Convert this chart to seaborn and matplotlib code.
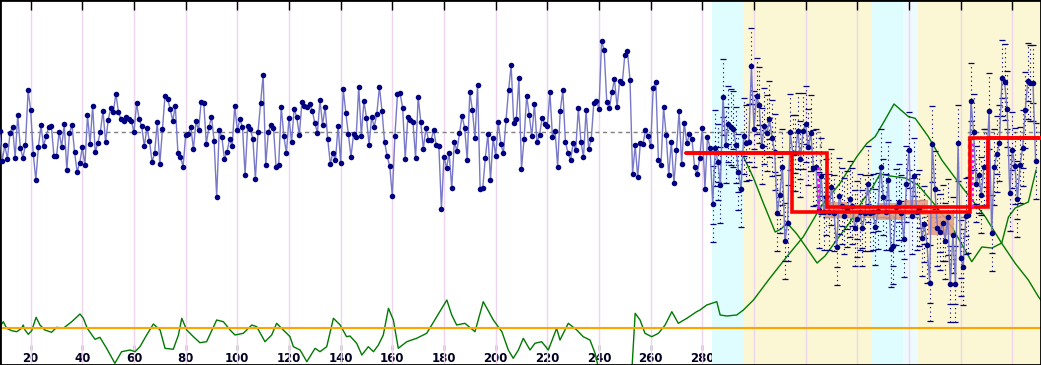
import numpy as np
import pandas as pd
import matplotlib
matplotlib.use("Agg")
import matplotlib.pyplot as plt
import seaborn as sns

# ---------------- data ----------------
seg1 = [234, 204.3, 220, 206, 232, 238, 207.3, 250, 217, 207.3, 220.3, 274.7, 254.7, 211, 185,
        218.3, 239.7, 218.7, 229.3, 238, 239.3, 209, 208.7, 232.7, 218.3, 240.7, 194.7, 231.7, 240,
        212.7, 193.3, 202.3, 217.7, 199.7, 249.7, 221.3, 259, 212.7, 222.3, 233.3, 254.3, 222.7,
        244.7, 257.3, 253.3, 271.3, 252.7, 245.7, 243.7, 248, 245.7, 244.3, 232.7, 261.7, 245.7,
        238.7, 218.7, 237]
seg2 = [224, 203, 212, 243, 201, 235.7, 269.3, 266.3, 256, 244.3, 258.7, 212.3, 208, 198.3, 229.7,
        231, 238, 215.7, 243.7, 234.7, 263.3, 262.3, 221.3, 237.7, 248.3, 224.3, 168.3, 235, 228,
        206, 213, 225.7, 219, 259.3, 234.7, 245.7, 237.7, 190.3, 239, 235.7, 226.3, 186, 233.3, 262,
        290, 199.7, 233.3, 239.7, 237.3, 198, 199.7, 258.3, 228.7, 212, 247.3, 222.7]
seg3 = [256.3, 247.7, 229.7, 263, 259.3, 258, 261, 254.3, 242.3, 232, 264.7, 240, 258.3, 225.7,
        201.3, 212, 205, 239.3, 202, 276, 252.3, 230.7, 208.3, 230.7, 228.3, 278.3, 229.3, 264, 247,
        220, 248, 238, 251.3, 278, 254.3, 223, 209, 198.7, 168.7, 229.3, 270.7, 271.7, 257, 206.3,
        248, 244.7, 242.7, 206.7, 268.3, 243.3, 216, 237, 225, 224.7, 235.3, 219.7]
seg4 = [219.3, 156.3, 208.3, 197, 211.7, 176.7, 223, 214.3, 231.7, 249, 237, 205, 273.3, 254.7,
        226.7, 280.3, 176, 176.7, 207.3, 231, 185, 227.3, 209.3, 242.7, 221.3, 211.7, 244.7, 275,
        299.7, 241.7, 245.7, 286.7, 196.3, 226, 269.3, 249.7, 228.7, 261, 222.7, 230.3, 247.3, 241.3,
        238.7, 272.7, 227.7, 233.7, 198.3, 254.3, 274.7, 223, 212, 205.3, 221.7, 215.3, 256.7, 223.3]
seg5 = [208, 254.7, 215.7, 226, 262.3, 264, 256.3, 324, 314.7, 263.3, 256.7, 272.7, 285.7, 258,
        284.3, 281.7, 310, 313.7, 285.3, 191.3, 219.7, 188, 222, 220.7, 234.7, 229, 218.7, 277.3,
        282.7, 204.7, 199.7, 257.7, 230, 189.7, 223.3, 181.7, 215.3, 253.7, 201.3, 242.3, 221.7,
        230.7, 226, 197.7, 190.7, 207.3, 237, 176.3, 227.7, 216.7, 160.7, 217, 203.3, 180, 268, 220]
seg6 = [241, 237.7, 236.3, 220, 192.7, 176, 229, 222.3, 223, 299, 236, 269.3, 260, 219.3, 239,
        231.7, 245.7, 227.3, 213, 152, 170.3, 198.3, 123.7, 142.3, 233.3, 212.3, 212.3, 234.3, 206.3,
        234, 241, 217.7, 231.7, 197, 197.7, 154.7, 189, 153.3, 168, 153, 178.3, 152.3, 117.7, 169,
        159, 149.3, 155.7, 166, 159, 137.3, 146, 153, 137.3, 152.3, 181, 152.3]
seg7 = [153, 138.3, 154.3, 198.3, 168.3, 153.3, 184.7, 116, 119, 158.3, 163, 151.7, 125.7, 181.3,
        215, 149, 189.3, 153.3, 157.3, 126.7, 140.7, 119.7, 82.3, 221.3, 176, 137.3, 133.3, 141.7,
        124, 148.3, 80.7, 130.3, 80.7, 222, 107.3, 98.3, 149.3, 150, 264, 233, 180.7, 190, 170.3,
        198.3, 197.7, 254, 132, 198, 210.7, 221.7, 287.3, 282.7, 256, 171.7, 215.3, 199.3, 166.3,
        199.7, 217.3, 255, 284.3, 281.7, 282.3, 204]
first_x = 8
errbar_from_x = 284
err_half = 38
err_mid = 20

# lower statistic curve (continues into the rising curve on the right)
curve1_x = [8.1, 9.4, 10.7, 12.7, 14.6, 16.5, 17.1, 17.8, 19.1, 20.4, 22.1, 23.6, 25.5, 28.1, 30.1,
            32.6, 35.9, 39.1, 40.4, 41.9, 44.9, 46.8, 49.4, 52.6, 55.2, 58.5, 60.4, 62.3, 64.9, 67.5,
            70.1, 72.0, 75.2, 77.2, 78.5, 80.4, 83.0, 85.5, 88.1, 92.0, 94.6, 97.2, 99.1, 102.3, 105.6,
            107.5, 110.7, 113.3, 115.2, 117.8, 120.4, 121.7, 124.3, 126.9, 130.1, 132.0, 134.6, 137.2,
            139.8, 142.3, 143.6, 146.2, 148.2, 150.7, 152.7, 154.6, 156.5, 158.5, 160.4, 162.3, 165.6,
            169.4, 173.3, 177.2, 181.1, 183.0, 184.9, 188.1, 192.0, 195.2, 199.1, 202.4, 204.9, 206.8,
            208.8, 210.7, 213.3, 215.2, 217.8, 220.4, 223.6, 224.9, 228.1, 231.4, 233.9, 236.5, 238.5,
            239.7, 244.3, 250.1, 252.8, 254.0, 255.9, 257.8, 260.4, 263.0, 265.6, 268.2, 270.7, 274.0,
            277.8, 279.1, 281.7, 285.6, 286.9, 289.5, 293.3, 295.9, 299.8, 305.6, 312.7, 319.1, 325.6,
            333.3, 339.8, 343.7, 346.9, 350.7, 354.2, 359.8, 362.4, 367.5, 372.7, 380.4, 389.5, 395.9,
            401.1, 406.2, 410.1, 412.7]
curve1_v = [38.3, 43.3, 36.7, 34.3, 33.3, 36.7, 40, 35, 30.7, 34.3, 47.7, 40, 35, 32.7, 37.7,
            36.7, 43.3, 51, 46.7, 36.7, 25.7, 27.7, 16.7, 1.7, 13.3, 15, 13.3, 18.3, 30, 41,
            35, 16.7, 15.7, 30, 46.7, 35, 28.3, 22.3, 23.3, 45, 43.3, 35, 30, 31.7, 40,
            38.3, 23.3, 30, 41.7, 35, 28.3, 18.3, 15, 3.3, 16.7, 13.3, 18.3, 46.7,
            40, 28.3, 29, 21.7, 10, 18.3, 13.3, 20, 30, 56.7, 45, 16.7, 23.3,
            26.7, 31.7, 48.3, 65, 50, 40, 41.7, 33.3, 63.3, 45, 33.3, 15, 6.7,
            15, 26.7, 15, 21.7, 23.3, 15, 36.7, 25, 41.7, 35, 28.3, 25, 11.7,
            -2, -20, -20, -2, 51.7, 45, 31.7, 28.3, 31.7, 40, 53.3, 41.7, 46.7,
            53.3, 55, 60, 63.3, 50, 49, 50, 55, 65, 85, 108.3, 128.3, 157,
            181.7, 208.3, 221.7, 228.3, 245, 261, 248.3, 246.7, 228.3, 205, 178.3, 148.3, 121.7,
            101.7, 85, 68.3, 59]
curve2_x = [296.0, 299.8, 303.6, 308.2, 310.5, 312.8, 316.6, 320.4, 324.4, 327.5, 332.0, 337.2,
            342.2, 345.7, 348.8, 352.7, 358.5, 363.5, 370.1, 376.6, 381.7, 384.3, 388.2, 392.1,
            395.9, 398.5, 401.1, 406.2, 409.2]
curve2_v = [208, 187, 162, 133, 136, 142, 131, 117, 102, 109, 125, 143,
            165, 177, 191, 189, 187, 180, 160, 138, 115, 103.3, 118, 117,
            122, 148, 157, 163, 195]
limit_level = 36.7

# fitted level steps
stepA_x = [273.7, 328.4, 328.4, 390.6, 390.6, 412]
stepA_v = [212, 212, 158, 158, 227.3, 227.3]
stepB_x = [273.7, 314.6, 314.6, 383.7, 383.7, 412]
stepB_v = [212, 212, 153.3, 153.3, 227.3, 227.3]
marker1_x, marker1_v = [324.9, 324.9], [198, 153.3]
marker2_x, marker2_v = [384.4, 384.4], [222, 158]

# reference (mean) level, step form
mean_x = [5, 325.6, 383.0, 415]
mean_v = [232.7, 148, 232.7, 232.7]

# confidence boxes
box_x0 = [327.5, 335.9, 347.5, 357.9, 367.5]
box_x1 = [335.9, 347.5, 357.9, 367.5, 377.6]
box_lo = [146.7, 146.7, 145, 150, 130]
box_hi = [163.3, 156.7, 161.7, 165.3, 153.3]

# background phases
band_x0 = [283.8, 295.9, 345.6, 357.8, 363.4]
band_x1 = [295.9, 345.6, 357.8, 363.4, 412]
band_kind = ["cyan", "yellow", "cyan", "pale", "yellow"]

tick_vals = list(range(20, 401, 20))

# ---------------- drawing ----------------
sns.set_theme(style="white")
plt.rcParams["font.family"] = ["DejaVu Sans"]

values = np.array(seg1 + seg2 + seg3 + seg4 + seg5 + seg6 + seg7, dtype=float)
xs = np.arange(first_x, first_x + len(values))
df = pd.DataFrame({"x": xs, "v": values})

fig = plt.figure(figsize=(10.41, 3.65), dpi=100)
ax = fig.add_axes([0, 0, 1, 1])
ax.set_xlim(8.13, 411.1)
ax.set_ylim(0, 365)

band_colors = {"cyan": "#DFFCFE", "yellow": "#FBF6D3", "pale": "#EEFBFE"}
for a, b, k in zip(band_x0, band_x1, band_kind):
    ax.axvspan(a, b, color=band_colors[k], lw=0, zorder=0.1)

ax.set_xticks(tick_vals)
ax.grid(axis="x", color="#EFD6EF", lw=1)
ax.grid(axis="y", visible=False)
ax.set_axisbelow(True)

# green statistic curves and limit
sns.lineplot(x=curve1_x, y=curve1_v, ax=ax, color="#007A00", lw=1, sort=False, estimator=None, zorder=2)
sns.lineplot(x=curve2_x, y=curve2_v, ax=ax, color="#007A00", lw=1, sort=False, estimator=None, zorder=2)
ax.axhline(limit_level, color="#FFA500", lw=1.5, zorder=2)

# mean reference
ax.plot(mean_x, mean_v, drawstyle="steps-post", color="#808080", lw=1, dashes=(3, 2.5), zorder=2.2)

# error bars (dotted whiskers with short dash caps)
sel = df[df["x"] >= errbar_from_x]
eb = ax.errorbar(sel["x"], sel["v"], yerr=err_half, fmt="none", ecolor="#000080",
                 elinewidth=0.8, capsize=2.2, capthick=0.9, zorder=2.5)
for lc in eb[2]:
    lc.set_linestyle((0, (1, 3)))
ax.plot(sel["x"][::2], sel["v"][::2] - err_mid, ls="none", marker="_", ms=4.4, mew=0.9,
        color="#000080", zorder=2.5)

# confidence boxes (above whiskers, below the series)
ax.bar(box_x0, np.array(box_hi) - np.array(box_lo), width=np.array(box_x1) - np.array(box_x0),
       bottom=box_lo, align="edge", color="#E59A80", alpha=0.85, lw=0, zorder=2.7)

# main series
sns.lineplot(data=df, x="x", y="v", ax=ax, color="#7878C8", lw=1, sort=False, estimator=None, zorder=3)
sns.scatterplot(data=df, x="x", y="v", ax=ax, color="#000080", s=16, marker="o", linewidth=0, zorder=3.5)

# fitted steps
ax.plot(stepB_x, stepB_v, color="#FF0000", lw=2.6, zorder=4, solid_joinstyle="miter")
ax.plot(stepA_x, stepA_v, color="#FF0000", lw=2.6, zorder=4, solid_joinstyle="miter")
ax.plot(marker1_x, marker1_v, color="#FF00FF", lw=2, ls=(0, (1, 1)), zorder=4.5)
ax.plot(marker2_x, marker2_v, color="#FF00FF", lw=2, ls=(0, (1, 1)), zorder=4.5)

ax.set_xlabel("")
ax.set_ylabel("")
ax.set_yticks([])
ax.tick_params(axis="x", which="major", top=True, bottom=False, labelbottom=False,
               labeltop=False, direction="in", length=7.5, width=1, color="black")
for sp in ax.spines.values():
    sp.set_visible(True)
    sp.set_color("black")
    sp.set_linewidth(2)

sec = ax.secondary_xaxis(15 / 365)
sec.set_xticks(tick_vals)
sec.tick_params(axis="x", direction="in", length=3.8, width=1, color="black", pad=1.5,
                labelsize=8.5, labelcolor="#000020")
for lab in sec.get_xticklabels():
    lab.set_fontweight("bold")
sec.spines["bottom"].set_visible(False)

fig.savefig("out.png", dpi=100)
